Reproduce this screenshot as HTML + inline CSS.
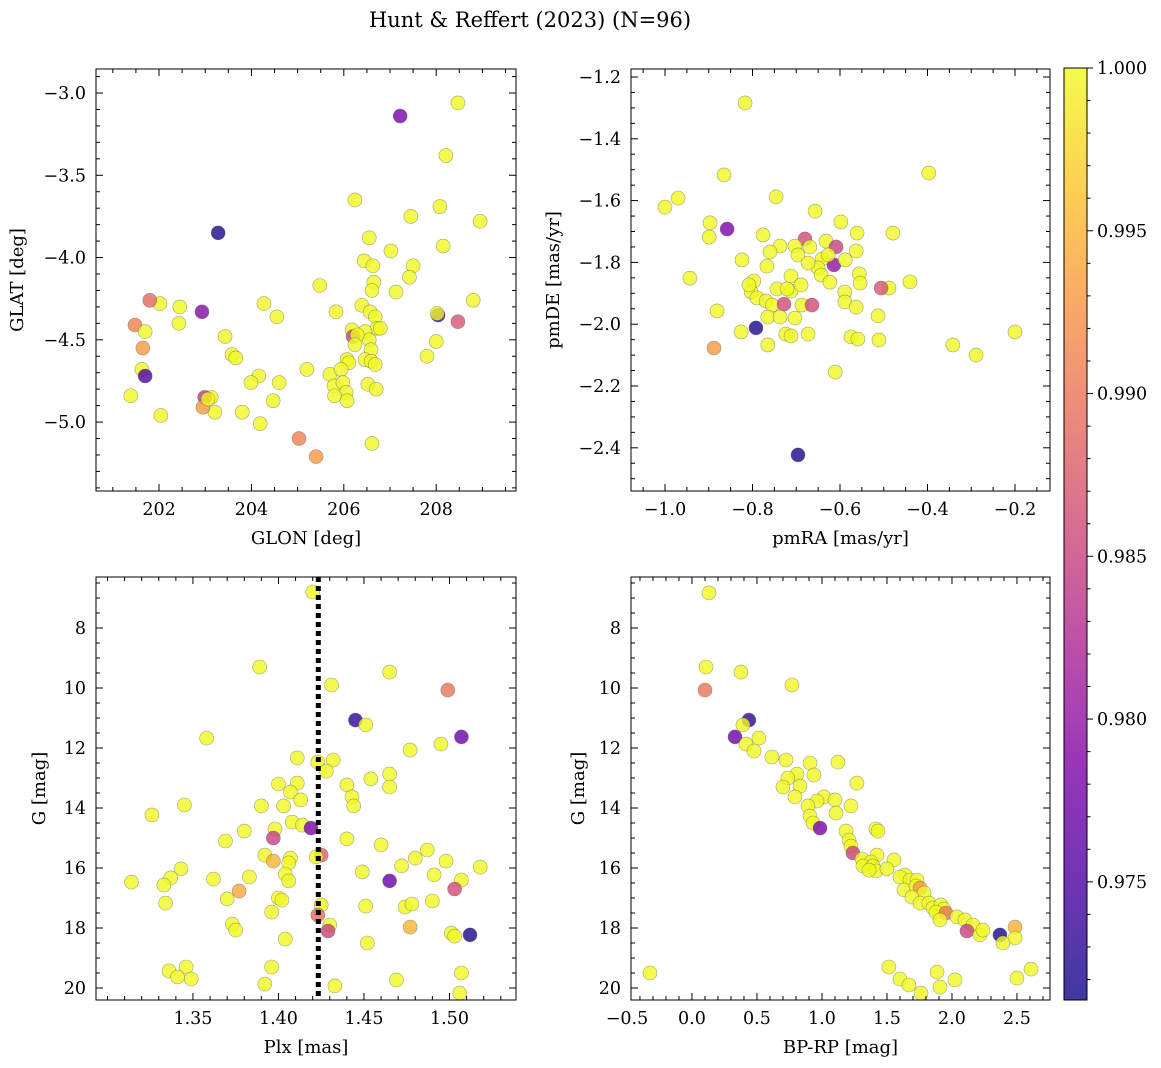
<!DOCTYPE html>
<html><head><meta charset="utf-8">
<style>
html,body{margin:0;padding:0;background:#fff;}
svg{display:block;font-family:"DejaVu Serif","Liberation Serif",serif;}
</style></head>
<body>
<svg id="fig" width="1161" height="1068" viewBox="0 0 1161 1068">
<text x="530" y="27" font-size="21" text-anchor="middle">Hunt &amp; Reffert (2023) (N=96)</text>
</svg>
<script>
// ---- data (each point: [x, y, membership probability]) ----
const skyPoints = [
[207.22,-3.14,0.978],[203.28,-3.85,0.972],[208.47,-3.06,1],[208.21,-3.38,1],[206.24,-3.65,1],[208.08,-3.69,1],[208.95,-3.78,1],[207.45,-3.75,1],[206.55,-3.88,1],[207.02,-3.96,1],[208.15,-3.93,1],[206.44,-4.02,1],[206.63,-4.05,1],[207.50,-4.05,1],[206.65,-4.15,1],[206.61,-4.20,1],[207.13,-4.21,1],[207.42,-4.12,1],[205.48,-4.17,1],[206.39,-4.29,1],[208.80,-4.26,1],[208.04,-4.35,0.974],[208.02,-4.34,1],[208.47,-4.39,0.987],[205.83,-4.33,1],[206.57,-4.33,1],[206.68,-4.36,1],[206.72,-4.43,1],[206.79,-4.43,1],[206.18,-4.44,1],[206.46,-4.45,1],[206.55,-4.50,1],[206.20,-4.48,0.985],[206.29,-4.47,1],[206.59,-4.56,1],[208.00,-4.51,1],[207.80,-4.60,1],[206.24,-4.53,1],[206.07,-4.62,1],[206.46,-4.62,1],[206.59,-4.63,1],[206.68,-4.65,1],[206.11,-4.64,1],[205.20,-4.68,1],[205.70,-4.71,1],[205.94,-4.68,1],[205.79,-4.78,1],[206.52,-4.77,1],[205.98,-4.76,1],[206.70,-4.80,1],[206.05,-4.82,1],[205.80,-4.84,1],[206.07,-4.87,1],[206.61,-5.13,1],[205.03,-5.10,0.991],[205.40,-5.21,0.993],[204.60,-4.76,1],[204.47,-4.87,1],[204.16,-4.72,1],[204.19,-5.01,1],[203.99,-4.76,1],[204.27,-4.28,1],[204.55,-4.36,1],[203.80,-4.94,1],[203.58,-4.59,1],[203.66,-4.61,1],[203.43,-4.48,1],[203.13,-4.85,1],[203.21,-4.94,1],[202.99,-4.85,0.984],[202.95,-4.91,0.993],[202.93,-4.33,0.979],[202.45,-4.30,1],[202.43,-4.40,1],[202.02,-4.28,1],[201.80,-4.26,0.989],[201.48,-4.41,0.991],[201.70,-4.45,1],[201.65,-4.55,0.993],[201.63,-4.68,1],[201.70,-4.72,0.975],[202.04,-4.96,1],[201.39,-4.84,1],[203.06,-4.86,1]
];
const pmPoints = [
[-0.817,-1.284,1],[-0.397,-1.511,1],[-0.865,-1.517,1],[-1.000,-1.621,1],[-0.970,-1.592,1],[-0.746,-1.588,1],[-0.858,-1.692,0.978],[-0.897,-1.672,1],[-0.899,-1.718,1],[-0.657,-1.634,1],[-0.680,-1.724,0.986],[-0.598,-1.669,1],[-0.561,-1.705,1],[-0.479,-1.705,1],[-0.776,-1.711,1],[-0.737,-1.747,1],[-0.760,-1.766,1],[-0.703,-1.747,1],[-0.696,-1.776,1],[-0.669,-1.750,1],[-0.632,-1.731,1],[-0.609,-1.750,0.985],[-0.563,-1.763,1],[-0.614,-1.808,0.980],[-0.824,-1.792,1],[-0.767,-1.812,1],[-0.641,-1.789,1],[-0.650,-1.818,1],[-0.627,-1.776,1],[-0.588,-1.792,1],[-0.673,-1.802,1],[-0.943,-1.851,1],[-0.712,-1.844,1],[-0.797,-1.860,1],[-0.643,-1.841,1],[-0.556,-1.837,1],[-0.803,-1.896,1],[-0.808,-1.873,1],[-0.744,-1.886,1],[-0.712,-1.893,1],[-0.721,-1.886,1],[-0.689,-1.873,1],[-0.623,-1.864,1],[-0.554,-1.867,1],[-0.488,-1.883,1],[-0.440,-1.863,1],[-0.506,-1.883,0.987],[-0.790,-1.915,1],[-0.769,-1.925,1],[-0.755,-1.938,1],[-0.687,-1.938,1],[-0.664,-1.938,0.986],[-0.728,-1.935,0.986],[-0.589,-1.896,1],[-0.589,-1.928,1],[-0.765,-1.977,1],[-0.737,-1.977,1],[-0.703,-1.980,1],[-0.881,-1.957,1],[-0.563,-1.945,1],[-0.513,-1.973,1],[-0.826,-2.025,1],[-0.792,-2.012,0.972],[-0.765,-2.067,1],[-0.724,-2.032,1],[-0.712,-2.038,1],[-0.673,-2.032,1],[-0.575,-2.041,1],[-0.559,-2.048,1],[-0.511,-2.051,1],[-0.888,-2.077,0.993],[-0.342,-2.067,1],[-0.289,-2.100,1],[-0.200,-2.025,1],[-0.611,-2.155,1],[-0.696,-2.423,0.972]
];
const plxPoints = [
[1.420,6.80,1],[1.389,9.30,1],[1.465,9.47,1],[1.499,10.07,0.990],[1.431,9.90,1],[1.445,11.07,0.973],[1.451,11.23,1],[1.507,11.63,0.977],[1.358,11.67,1],[1.495,11.87,1],[1.477,12.07,1],[1.411,12.33,1],[1.432,12.40,1],[1.423,12.47,1],[1.428,12.77,1],[1.465,12.87,1],[1.454,13.03,1],[1.440,13.23,1],[1.465,13.30,1],[1.400,13.20,1],[1.411,13.17,1],[1.407,13.47,1],[1.413,13.73,1],[1.443,13.63,1],[1.444,13.93,1],[1.403,13.93,1],[1.390,13.93,1],[1.345,13.90,1],[1.326,14.23,1],[1.408,14.47,1],[1.414,14.57,1],[1.419,14.67,0.978],[1.398,14.70,1],[1.397,15.00,0.985],[1.380,14.77,1],[1.440,15.03,1],[1.460,15.23,1],[1.369,15.10,1],[1.487,15.40,1],[1.392,15.57,1],[1.407,15.67,1],[1.425,15.57,0.988],[1.422,15.63,1],[1.397,15.77,0.995],[1.406,15.83,1],[1.472,15.93,1],[1.480,15.67,1],[1.343,16.03,1],[1.498,15.77,1],[1.518,15.97,1],[1.449,16.13,1],[1.404,16.20,1],[1.491,16.23,1],[1.507,16.40,1],[1.337,16.33,1],[1.362,16.37,1],[1.383,16.30,1],[1.406,16.43,1],[1.465,16.43,0.977],[1.333,16.57,1],[1.314,16.47,1],[1.503,16.70,0.986],[1.377,16.77,0.994],[1.400,17.00,1],[1.402,17.07,1],[1.370,17.03,1],[1.334,17.17,1],[1.425,17.23,1],[1.451,17.27,1],[1.474,17.30,1],[1.478,17.20,1],[1.490,17.10,1],[1.423,17.57,0.989],[1.396,17.47,1],[1.373,17.87,1],[1.375,18.07,1],[1.430,17.90,1],[1.429,18.10,0.985],[1.477,17.97,0.995],[1.501,18.17,1],[1.503,18.27,1],[1.512,18.23,0.972],[1.452,18.50,1],[1.404,18.37,1],[1.396,19.30,1],[1.336,19.43,1],[1.346,19.30,1],[1.341,19.63,1],[1.349,19.70,1],[1.469,19.73,1],[1.507,19.50,1],[1.392,19.87,1],[1.433,19.93,1],[1.506,20.17,1]
];
const cmdPoints = [
[0.131,6.83,1],[0.108,9.30,1],[0.377,9.47,1],[0.100,10.07,0.990],[0.769,9.90,1],[0.438,11.07,0.973],[0.392,11.23,1],[0.331,11.63,0.977],[0.415,11.87,1],[0.515,11.67,1],[0.477,12.10,1],[0.723,12.40,1],[0.615,12.30,1],[0.908,12.50,1],[1.123,12.47,1],[0.808,12.87,1],[0.738,13.00,1],[0.938,12.90,1],[0.700,13.30,1],[0.831,13.27,1],[0.792,13.63,1],[1.269,13.17,1],[1.015,13.63,1],[0.962,13.77,1],[1.100,13.73,1],[1.223,13.93,1],[0.892,13.93,1],[1.108,14.17,1],[0.908,14.27,1],[0.931,14.50,1],[0.985,14.67,0.978],[1.185,14.77,1],[1.415,14.70,1],[1.431,14.77,1],[1.208,15.07,1],[1.223,15.27,1],[1.238,15.50,0.985],[1.423,15.57,1],[1.308,15.70,1],[1.377,15.80,1],[1.315,15.93,1],[1.392,15.93,1],[1.415,16.10,1],[1.362,16.07,1],[1.554,15.73,1],[1.500,16.03,1],[1.638,16.23,1],[1.600,16.30,1],[1.677,16.40,1],[1.731,16.40,1],[1.631,16.73,1],[1.723,16.60,1],[1.754,16.67,0.993],[1.785,16.83,1],[1.692,16.97,1],[1.754,17.17,1],[1.823,17.17,1],[1.854,17.33,1],[1.915,17.23,1],[1.938,17.37,1],[1.877,17.47,1],[1.954,17.50,0.990],[2.038,17.63,1],[1.908,17.73,1],[2.100,17.73,1],[2.162,17.90,1],[2.115,18.10,0.985],[2.215,18.23,1],[2.238,18.07,1],[2.369,18.23,0.972],[2.485,17.97,0.995],[2.485,18.33,1],[2.392,18.50,1],[-0.323,19.50,1],[1.515,19.30,1],[1.600,19.70,1],[1.669,19.90,1],[1.885,19.47,1],[2.023,19.73,1],[1.908,19.97,1],[1.762,20.17,1],[2.500,19.67,1],[2.608,19.37,1]
];
const skyXTicks = [202,204,206,208];
const skyYTicks = [-3.0,-3.5,-4.0,-4.5,-5.0];
const pmXTicks = [-1.0,-0.8,-0.6,-0.4,-0.2];
const pmYTicks = [-1.2,-1.4,-1.6,-1.8,-2.0,-2.2,-2.4];
const plxXTicks = [1.35,1.40,1.45,1.50];
const magTicks = [8,10,12,14,16,18,20];
const cmdXTicks = [-0.5,0.0,0.5,1.0,1.5,2.0,2.5];
const cbTicks = [0.975,0.980,0.985,0.990,0.995,1.000];
const plxReference = 1.4233;
const probMin = 0.97137, probMax = 1.0;

const NS = "http://www.w3.org/2000/svg";
const svg = document.getElementById('fig');
function mk(tag, attrs, parent){
  const e = document.createElementNS(NS, tag);
  for (const k in attrs) e.setAttribute(k, attrs[k]);
  (parent||svg).appendChild(e);
  return e;
}
const stops = [[0,'#0d0887'],[0.125,'#4c02a1'],[0.25,'#7e03a8'],[0.375,'#a92395'],[0.5,'#cc4778'],[0.625,'#e66c5c'],[0.75,'#f89540'],[0.875,'#fdc527'],[1,'#f0f921']];
function hex(h){return [1,3,5].map(i=>parseInt(h.substr(i,2),16));}
function plasma(t){
  t=Math.max(0,Math.min(1,t));
  for(let i=1;i<stops.length;i++){
    if(t<=stops[i][0]){
      const a=stops[i-1],b=stops[i],f=(t-a[0])/(b[0]-a[0]);
      const ca=hex(a[1]),cb=hex(b[1]);
      return 'rgb('+ca.map((v,j)=>Math.round(v+(cb[j]-v)*f)).join(',')+')';
    }
  }
  return stops[stops.length-1][1];
}
function fmt(v,d){return (v<0?'\u2212':'')+Math.abs(v).toFixed(d);}

function panel(o){
  const g = mk('g',{});
  
  
  const sx = v => o.px0 + (v-o.x0)/(o.x1-o.x0)*(o.px1-o.px0);
  const sy = v => o.py0 + (v-o.y0)/(o.y1-o.y0)*(o.py1-o.py0);
  const pg = mk('g',{},g);
  
  
  o.data.forEach(d=>{
    const c = mk('circle',{cx:sx(d[0]),cy:sy(d[1]),r:7,fill:plasma((d[2]-probMin)/(probMax-probMin)),'fill-opacity':0.8,stroke:'rgba(90,90,90,0.55)','stroke-width':0.6},pg);
    
    
  });
  if (o.extra) o.extra(g,sx,sy);
  const f = mk('rect',{x:o.px0,y:Math.min(o.py0,o.py1),width:o.px1-o.px0,height:Math.abs(o.py1-o.py0),fill:'none',stroke:'#000','stroke-width':1},g);
  
  
  const top=Math.min(o.py0,o.py1), bot=Math.max(o.py0,o.py1);
  const xlo=Math.min(o.x0,o.x1), xhi=Math.max(o.x0,o.x1);
  for(let v=Math.ceil(xlo/o.xminor-1e-9)*o.xminor; v<=xhi+1e-9; v+=o.xminor){
    const X=sx(v); const major=o.xt.some(t=>Math.abs(t-v)<o.xminor/10); const L=major?7:4;
    mk('line',{x1:X,x2:X,y1:bot,y2:bot-L,stroke:'#000','stroke-width':1},g);
    mk('line',{x1:X,x2:X,y1:top,y2:top+L,stroke:'#000','stroke-width':1},g);
  }
  o.xt.forEach(v=>{
    const t=mk('text',{x:sx(v),y:bot+24,'font-size':17.5,'text-anchor':'middle'},g);
    t.textContent=fmt(v,o.xd);
    
    
  });
  const ylo=Math.min(o.y0,o.y1), yhi=Math.max(o.y0,o.y1);
  for(let v=Math.ceil(ylo/o.yminor-1e-9)*o.yminor; v<=yhi+1e-9; v+=o.yminor){
    const Y=sy(v); const major=o.yt.some(t=>Math.abs(t-v)<o.yminor/10); const L=major?7:4;
    mk('line',{x1:o.px0,x2:o.px0+L,y1:Y,y2:Y,stroke:'#000','stroke-width':1},g);
    mk('line',{x1:o.px1,x2:o.px1-L,y1:Y,y2:Y,stroke:'#000','stroke-width':1},g);
  }
  o.yt.forEach(v=>{
    const t=mk('text',{x:o.px0-10,y:sy(v)+6,'font-size':17.5,'text-anchor':'end'},g);
    t.textContent=fmt(v,o.yd);
    
    
  });
  const xl=mk('text',{x:(o.px0+o.px1)/2,y:bot+53,'font-size':18,'text-anchor':'middle'},g);
  xl.textContent=o.xlabel;
  
  
  const yx=o.ylx, yy=(top+bot)/2;
  const yl=mk('text',{x:yx,y:yy,'font-size':18,'text-anchor':'middle',transform:'rotate(-90 '+yx+' '+yy+')'},g);
  yl.textContent=o.ylabel;
  
  
}

panel({name:'sky-panel',data:skyPoints,px0:96,px1:516,py0:69,py1:491,x0:200.636,x1:209.727,y0:-2.854,y1:-5.419,xt:skyXTicks,yt:skyYTicks,xd:0,yd:1,xminor:0.5,yminor:0.1,xlabel:'GLON [deg]',ylabel:'GLAT [deg]',ylx:23});
panel({name:'pm-panel',data:pmPoints,px0:631,px1:1050,py0:69,py1:491,x0:-1.0777,x1:-0.1200,y0:-1.1741,y1:-2.5398,xt:pmXTicks,yt:pmYTicks,xd:1,yd:1,xminor:0.05,yminor:0.05,xlabel:'pmRA [mas/yr]',ylabel:'pmDE [mas/yr]',ylx:559});
panel({name:'plx-panel',data:plxPoints,px0:96,px1:516,py0:577,py1:1000,x0:1.2933,x1:1.5389,y0:6.3,y1:20.4,xt:plxXTicks,yt:magTicks,xd:2,yd:0,xminor:0.01,yminor:0.5,xlabel:'Plx [mas]',ylabel:'G [mag]',ylx:45,
  extra:(g,sx,sy)=>{const l=mk('line',{x1:sx(plxReference),x2:sx(plxReference),y1:577,y2:1000,stroke:'#000','stroke-width':5,'stroke-dasharray':'5 4'},g);
    
    }});
panel({name:'cmd-panel',data:cmdPoints,px0:631,px1:1050,py0:577,py1:1000,x0:-0.469,x1:2.754,y0:6.3,y1:20.4,xt:cmdXTicks,yt:magTicks,xd:1,yd:0,xminor:0.1,yminor:0.5,xlabel:'BP-RP [mag]',ylabel:'G [mag]',ylx:584});

(function(){
  const g=mk('g',{});
  
  
  const defs=mk('defs',{},g);
  const lg=mk('linearGradient',{id:'cbg',x1:0,y1:1,x2:0,y2:0},defs);
  stops.forEach(s=>mk('stop',{offset:s[0],'stop-color':s[1],'stop-opacity':0.8},lg));
  const x0=1064,x1=1087,y0=68,y1=1000;
  mk('rect',{x:x0,y:y0,width:x1-x0,height:y1-y0,fill:'url(#cbg)',stroke:'#000','stroke-width':1},g);
  const sy=v=>y1-(v-probMin)/(probMax-probMin)*(y1-y0);
  for(let v=0.972; v<=1.00001; v+=0.001){
    const Y=sy(v); const major=cbTicks.some(t=>Math.abs(t-v)<1e-4);
    mk('line',{x1:x1,x2:x1+(major?6:3.5),y1:Y,y2:Y,stroke:'#000','stroke-width':1},g);
  }
  cbTicks.forEach(v=>{
    const t=mk('text',{x:1097,y:sy(v)+6,'font-size':17.5},g);
    t.textContent=v.toFixed(3);
    
    
  });
})();
</script>
</body></html>
